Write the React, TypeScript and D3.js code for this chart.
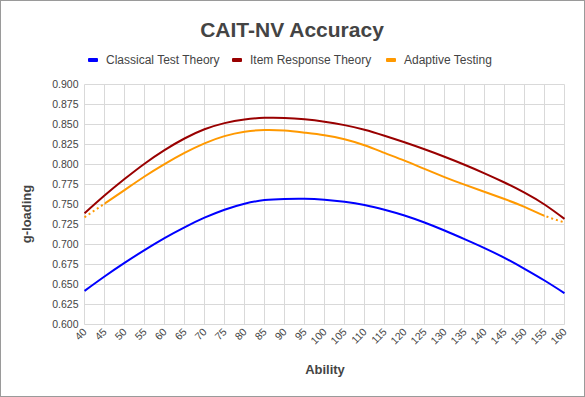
import { scaleLinear, line, curveNatural, range } from "d3";

const abilities = [40, 45, 50, 55, 60, 65, 70, 75, 80, 85, 90, 95, 100, 105, 110, 115, 120, 125, 130, 135, 140, 145, 150, 155, 160];

const ctt = [0.642, 0.66, 0.677, 0.693, 0.708, 0.7215, 0.7335, 0.7435, 0.751, 0.7555, 0.757, 0.7572, 0.756, 0.7535, 0.7495, 0.7435, 0.7363, 0.7275, 0.7175, 0.7067, 0.6955, 0.6833, 0.6696, 0.655, 0.6392];
const irt = [0.739, 0.7612, 0.7818, 0.801, 0.818, 0.8325, 0.844, 0.8517, 0.8563, 0.8583, 0.8582, 0.8565, 0.8535, 0.8492, 0.8435, 0.836, 0.8278, 0.819, 0.8097, 0.7997, 0.789, 0.7775, 0.7648, 0.75, 0.732];
const cat = [0.734, 0.751, 0.768, 0.785, 0.8005, 0.8145, 0.8265, 0.8355, 0.841, 0.8432, 0.8425, 0.8398, 0.8365, 0.8315, 0.824, 0.8145, 0.8048, 0.7945, 0.7843, 0.7748, 0.7658, 0.7568, 0.747, 0.736, 0.7275];

const seriesNames = ["Classical Test Theory", "Item Response Theory", "Adaptive Testing"];
const seriesColors = ["#0000ff", "#990000", "#ff9900"];
const legendX = [88, 232, 386];

const yTicks = [0.6, 0.625, 0.65, 0.675, 0.7, 0.725, 0.75, 0.775, 0.8, 0.825, 0.85, 0.875, 0.9];

const width = 585;
const height = 397;
const margin = { top: 84.5, left: 84.5, right: 20.5, bottom: 72.5 };
const font = "'Liberation Sans', Arial, sans-serif";

export default function App() {
  const x = scaleLinear().domain([40, 160]).range([margin.left, width - margin.right]);
  const y = scaleLinear().domain([0.6, 0.9]).range([height - margin.bottom, margin.top]);

  const pts = (vals: number[]) => abilities.map((a, i) => [a, vals[i]] as [number, number]);
  const path = line<[number, number]>()
    .x((d) => x(d[0]))
    .y((d) => y(d[1]))
    .curve(curveNatural);

  // solid part of adaptive testing runs 45..155, dotted outside
  const catD = path(pts(cat)) || "";

  return (
    <svg width={width} height={height} style={{ position: "absolute", left: 0, top: 0, background: "#fff" }}>
      <defs>
        <clipPath id="mid">
          <rect x={x(45)} y={0} width={x(155) - x(45)} height={height} />
        </clipPath>
        <clipPath id="ends">
          <rect x={0} y={0} width={x(45)} height={height} />
          <rect x={x(155)} y={0} width={width - x(155)} height={height} />
        </clipPath>
      </defs>
      <rect x={0.5} y={0.5} width={width - 1} height={height - 1} fill="#fff" stroke="#9a9a9a" />
      <text x={292} y={37} textAnchor="middle" fontFamily={font} fontWeight="bold" fontSize={21} fill="#444">
        CAIT-NV Accuracy
      </text>

      {seriesNames.map((name, i) => (
        <g key={name}>
          <rect x={legendX[i]} y={58} width={10} height={4} rx={1} fill={seriesColors[i]} />
          <text x={legendX[i] + 18} y={64} fontFamily={font} fontSize={12} fill="#444">
            {name}
          </text>
        </g>
      ))}

      {/* grid */}
      {range(40, 161, 5).map((a) => (
        <line key={"v" + a} x1={x(a)} x2={x(a)} y1={y(0.6)} y2={y(0.9)} stroke="#d9d9d9" />
      ))}
      {yTicks.map((t) => (
        <line key={"h" + t} x1={x(40)} x2={x(160)} y1={y(t)} y2={y(t)} stroke="#d9d9d9" />
      ))}

      {yTicks.map((t) => (
        <text key={"yl" + t} x={x(40) - 6} y={y(t) + 3.5} textAnchor="end" fontFamily={font} fontSize={10.5} fill="#444">
          {t.toFixed(3)}
        </text>
      ))}
      {abilities.map((a) => (
        <text
          key={"xl" + a}
          transform={`translate(${x(a) + 3},${y(0.6) + 8}) rotate(-45)`}
          textAnchor="end"
          fontFamily={font}
          fontSize={10.5}
          fill="#444"
        >
          {a}
        </text>
      ))}

      <text x={325} y={374} textAnchor="middle" fontFamily={font} fontWeight="bold" fontSize={13} fill="#444">
        Ability
      </text>
      <text transform="translate(31,214) rotate(-90)" textAnchor="middle" fontFamily={font} fontWeight="bold" fontSize={13} fill="#444">
        g-loading
      </text>

      <path d={path(pts(ctt)) || ""} fill="none" stroke={seriesColors[0]} strokeWidth={2} />
      <path d={path(pts(irt)) || ""} fill="none" stroke={seriesColors[1]} strokeWidth={2} />
      <path d={catD} fill="none" stroke={seriesColors[2]} strokeWidth={2} clipPath="url(#mid)" />
      <path d={catD} fill="none" stroke={seriesColors[2]} strokeWidth={2} strokeDasharray="2,3" clipPath="url(#ends)" />
    </svg>
  );
}
